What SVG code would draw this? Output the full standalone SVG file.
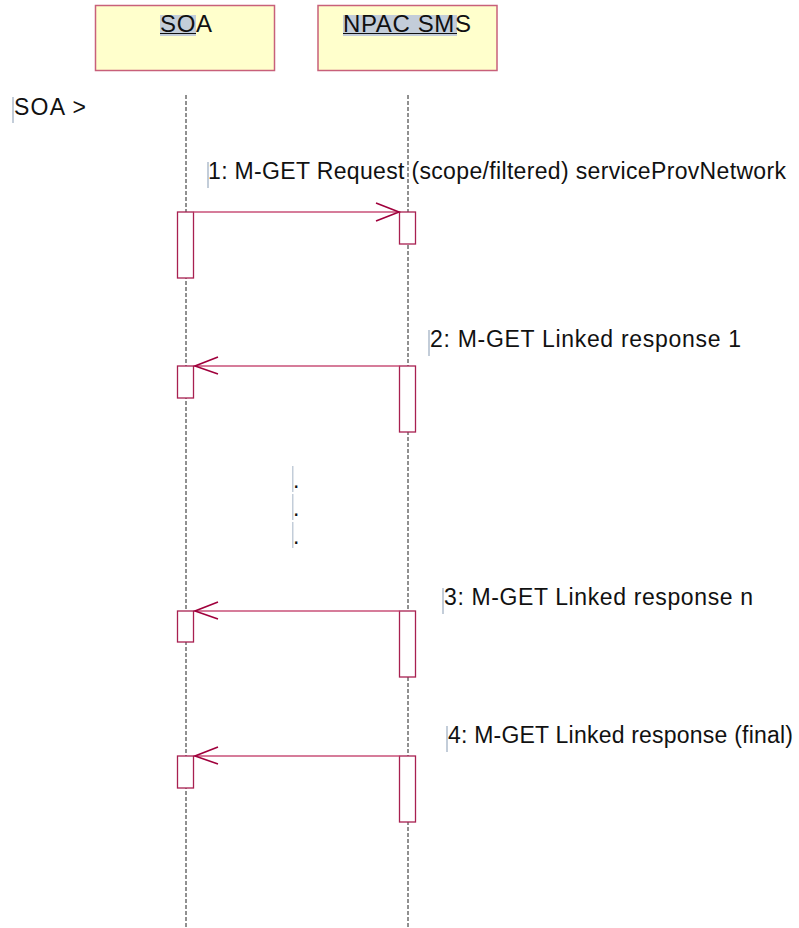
<svg xmlns="http://www.w3.org/2000/svg" width="799" height="928" viewBox="0 0 799 928">
<style>
.obj{fill:#ffffcc;stroke:#c8607a;stroke-width:1.5}
.hl{fill:#c3cdd9}
.cur{fill:#c3cdd9}
.t{font-family:"Liberation Sans",Arial,sans-serif;font-size:23px;fill:#111}
.th{font-family:"Liberation Sans",Arial,sans-serif;font-size:24px;fill:#111}
.life{stroke:#222;stroke-width:1;stroke-dasharray:4,2;fill:none}
.act{fill:#fff;stroke:#a82050;stroke-width:1.3}
.msg{stroke:#c85078;stroke-width:1.5;fill:none}
.head{stroke:#a0003c;stroke-width:1.6;fill:none}
</style>
<rect width="799" height="928" fill="#fff"/>
<g id="lifelines">
<line class="life" x1="186" y1="95" x2="186" y2="928"/>
<line class="life" x1="408" y1="95" x2="408" y2="928"/>
</g>
<g id="node-soa">
<rect class="obj" x="95.5" y="5.5" width="179" height="65"/>
<rect class="hl" x="160" y="15" width="36" height="21"/>
<text class="th" x="160" y="32" textLength="52" lengthAdjust="spacing">SOA</text>
<line x1="160" y1="33.5" x2="196" y2="33.5" stroke="#111" stroke-width="1.2"/>
</g>
<g id="node-npac">
<rect class="obj" x="318" y="5.5" width="179" height="65"/>
<rect class="hl" x="343" y="15" width="114" height="21"/>
<text class="th" x="343" y="32" textLength="128" lengthAdjust="spacing">NPAC SMS</text>
<line x1="343" y1="33.5" x2="457" y2="33.5" stroke="#111" stroke-width="1.2"/>
</g>
<g id="label-soa">
<rect class="cur" x="12" y="97" width="2" height="26"/>
<text class="t" x="14" y="115" textLength="72" lengthAdjust="spacing">SOA &gt;</text>
</g>
<g id="activations">
<rect class="act" x="177.5" y="212" width="16" height="66"/>
<rect class="act" x="399.5" y="212" width="16" height="32"/>
<rect class="act" x="177.5" y="366" width="16" height="32"/>
<rect class="act" x="399.5" y="366" width="16" height="66"/>
<rect class="act" x="177.5" y="611" width="16" height="31"/>
<rect class="act" x="399.5" y="611" width="16" height="66"/>
<rect class="act" x="177.5" y="756" width="16" height="32"/>
<rect class="act" x="399.5" y="756" width="16" height="66"/>
</g>
<g id="connectors">
<line class="msg" x1="193.5" y1="212" x2="399.5" y2="212"/>
<polyline class="head" points="376,203 399,212 376,221"/>
<line class="msg" x1="399.5" y1="366" x2="194" y2="366"/>
<polyline class="head" points="218,357 195,366 218,374"/>
<line class="msg" x1="399.5" y1="611" x2="194" y2="611"/>
<polyline class="head" points="218,602 195,611 218,619"/>
<line class="msg" x1="399.5" y1="756" x2="194" y2="756"/>
<polyline class="head" points="218,747 195,756 218,764"/>
</g>
<g id="msg-labels">
<rect class="cur" x="207" y="162" width="2" height="26"/>
<text class="t" x="208" y="179" textLength="578" lengthAdjust="spacing">1: M-GET Request (scope/filtered) serviceProvNetwork</text>
<rect class="cur" x="428" y="330" width="2" height="26"/>
<text class="t" x="430" y="347" textLength="311" lengthAdjust="spacing">2: M-GET Linked response 1</text>
<rect class="cur" x="442" y="588" width="2" height="26"/>
<text class="t" x="444" y="605" textLength="309" lengthAdjust="spacing">3: M-GET Linked response n</text>
<rect class="cur" x="446" y="726" width="2" height="26"/>
<text class="t" x="448" y="743" textLength="345" lengthAdjust="spacing">4: M-GET Linked response (final)</text>
</g>
<g id="ellipsis">
<rect class="cur" x="292" y="466" width="1.5" height="26"/>
<text class="t" x="293" y="488">.</text>
<rect class="cur" x="292" y="494" width="1.5" height="26"/>
<text class="t" x="293" y="516">.</text>
<rect class="cur" x="292" y="522" width="1.5" height="26"/>
<text class="t" x="293" y="544">.</text>
</g>
</svg>
